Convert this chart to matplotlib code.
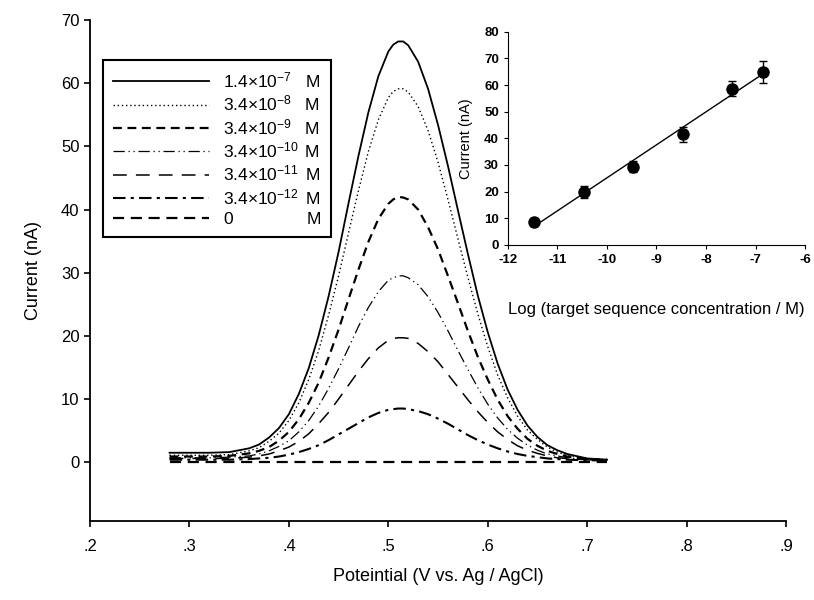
import numpy as np
import matplotlib
matplotlib.use('Agg')
import matplotlib.pyplot as plt
from matplotlib.ticker import FuncFormatter

plt.rcParams['font.family'] = ['Liberation Sans', 'DejaVu Sans']
plt.rcParams['axes.unicode_minus'] = False
plt.rcParams['mathtext.fontset'] = 'custom'
plt.rcParams['mathtext.rm'] = 'Liberation Sans'
plt.rcParams['mathtext.it'] = 'Liberation Sans'

# potential (V) where the voltammograms were read
potential = [0.28, 0.30, 0.32, 0.34, 0.36, 0.37, 0.38, 0.39, 0.40, 0.41, 0.42, 0.43, 0.44,
             0.45, 0.46, 0.47, 0.48, 0.49, 0.50, 0.505, 0.51, 0.515, 0.52, 0.53, 0.54,
             0.55, 0.56, 0.57, 0.58, 0.59, 0.60, 0.61, 0.62, 0.63, 0.64, 0.65, 0.66,
             0.67, 0.68, 0.70, 0.72]

c_1e7 = [1.5, 1.5, 1.5, 1.6, 2.2, 2.8, 3.9, 5.4, 7.6, 10.8, 14.9, 20.1, 26.3,
         33.3, 41.0, 48.5, 55.4, 61.1, 65.0, 66.1, 66.6, 66.6, 66.0, 63.4, 59.1,
         53.4, 46.9, 39.9, 33.0, 26.4, 20.6, 15.6, 11.5, 8.3, 5.8, 4.0, 2.7,
         1.9, 1.3, 0.6, 0.4]
c_1e8 = [1.1, 1.1, 1.1, 1.2, 1.8, 2.3, 3.3, 4.6, 6.6, 9.4, 13.1, 17.7, 23.3,
         29.5, 36.3, 43.0, 49.2, 54.2, 57.7, 58.7, 59.1, 59.1, 58.6, 56.3, 52.5,
         47.5, 41.6, 35.4, 29.3, 23.5, 18.3, 13.8, 10.2, 7.3, 5.1, 3.6, 2.4,
         1.6, 1.1, 0.6, 0.4]
c_1e9 = [0.9, 0.9, 0.9, 1.0, 1.4, 1.8, 2.4, 3.4, 4.8, 6.8, 9.4, 12.6, 16.6,
         21.0, 25.8, 30.5, 34.9, 38.5, 40.9, 41.6, 42.0, 41.9, 41.6, 40.0, 37.2,
         33.7, 29.5, 25.2, 20.8, 16.7, 13.1, 9.9, 7.3, 5.3, 3.7, 2.6, 1.8,
         1.3, 0.9, 0.5, 0.4]
c_1e10 = [0.7, 0.7, 0.7, 0.8, 1.0, 1.3, 1.8, 2.5, 3.4, 4.8, 6.6, 8.9, 11.7,
          14.8, 18.1, 21.5, 24.5, 27.0, 28.8, 29.2, 29.5, 29.5, 29.2, 28.1, 26.2,
          23.7, 20.8, 17.7, 14.7, 11.8, 9.2, 7.0, 5.2, 3.8, 2.7, 1.9, 1.3,
          1.0, 0.7, 0.4, 0.3]
c_1e11 = [0.6, 0.6, 0.6, 0.6, 0.8, 1.0, 1.3, 1.8, 2.4, 3.3, 4.5, 6.1, 7.9,
          10.0, 12.2, 14.4, 16.4, 18.1, 19.3, 19.6, 19.7, 19.7, 19.6, 18.8, 17.5,
          15.9, 13.9, 11.9, 9.9, 8.0, 6.3, 4.8, 3.6, 2.6, 1.9, 1.4, 1.0,
          0.7, 0.6, 0.4, 0.3]
c_1e12 = [0.4, 0.4, 0.4, 0.4, 0.5, 0.6, 0.7, 0.9, 1.2, 1.6, 2.1, 2.7, 3.5,
          4.4, 5.3, 6.2, 7.1, 7.8, 8.3, 8.4, 8.5, 8.5, 8.4, 8.1, 7.6,
          6.9, 6.1, 5.2, 4.3, 3.5, 2.8, 2.2, 1.7, 1.3, 1.0, 0.8, 0.6,
          0.5, 0.4, 0.3, 0.3]
c_zero = [0.1, 0.1, 0.1, 0.1, 0.1, 0.1, 0.1, 0.1, 0.1, 0.1, 0.1, 0.1, 0.1,
          0.1, 0.1, 0.1, 0.1, 0.1, 0.1, 0.1, 0.1, 0.1, 0.1, 0.1, 0.1,
          0.1, 0.1, 0.1, 0.1, 0.1, 0.1, 0.1, 0.1, 0.1, 0.1, 0.1, 0.1,
          0.1, 0.1, 0.1, 0.1]

labels = [r'1.4$\times$10$^{-7}$', r'3.4$\times$10$^{-8}$', r'3.4$\times$10$^{-9}$',
          r'3.4$\times$10$^{-10}$', r'3.4$\times$10$^{-11}$', r'3.4$\times$10$^{-12}$', '0']
unit = 'M'

# calibration (inset)
log_conc = [-11.47, -10.47, -9.47, -8.47, -7.47, -6.85]
peak_current = [8.6, 19.8, 29.4, 41.6, 58.6, 64.9]
peak_err = [1.5, 2.2, 2.0, 2.8, 2.8, 4.2]

styles = [('-', 1.3), ((0, (1, 2)), 1.0), ((0, (4, 2.5)), 1.6), ((0, (9, 3, 1, 3, 1, 3)), 0.9),
          ((0, (9, 6)), 1.1), ((0, (6, 2.5, 1.5, 2.5)), 1.5), ((0, (5, 3)), 1.6)]
leg_size = 12.5

fig = plt.figure(figsize=(8.14, 6.0), dpi=100)
ax = fig.add_axes([0.1106, 0.1317, 0.855, 0.835])

# pad every legend label so the unit "M" lines up in one column
renderer = fig.canvas.get_renderer()


def text_width(s):
    t = fig.text(0, 0, s, fontsize=leg_size)
    w = t.get_window_extent(renderer).width
    t.remove()
    return w


em = text_width(r'$a\hspace{1}a$') - text_width(r'$aa$')
widths = [text_width(l) for l in labels]
wmax = max(widths)
leg_labels = [l + r'$\hspace{%.3f}$' % ((wmax - w + 7) / em) + unit
              for l, w in zip(labels, widths)]

curves = [c_1e7, c_1e8, c_1e9, c_1e10, c_1e11, c_1e12, c_zero]
for y, lab, (ls, lw) in zip(curves, leg_labels, styles):
    ax.plot(potential, y, color='black', linestyle=ls, linewidth=lw, label=lab)

ax.set_xlim(0.2, 0.9)
ax.set_ylim(-9.3, 70)
ax.set_xticks(np.arange(0.2, 0.91, 0.1))
ax.set_yticks(range(0, 71, 10))
ax.xaxis.set_major_formatter(FuncFormatter(lambda v, p: ('%.1f' % v).lstrip('0')))
for s in ['top', 'right']:
    ax.spines[s].set_visible(False)
for s in ['left', 'bottom']:
    ax.spines[s].set_linewidth(1.3)
ax.tick_params(direction='out', length=4, width=1.2, labelsize=12)
ax.tick_params(axis='x', pad=9)
ax.set_xlabel('Poteintial (V vs. Ag / AgCl)', fontsize=13, labelpad=10)
ax.set_ylabel('Current (nA)', fontsize=13, labelpad=14)

leg = ax.legend(loc='upper left', bbox_to_anchor=(0.0187, 0.92), borderaxespad=0,
                fancybox=False, edgecolor='black', framealpha=1,
                prop={'size': leg_size}, handlelength=5.5, handletextpad=0.8,
                labelspacing=0.2, borderpad=0.6)
leg.get_frame().set_linewidth(1.5)

# inset: calibration plot
ins = fig.add_axes([0.624, 0.5917, 0.365, 0.3555])
a, b = np.polyfit(log_conc, peak_current, 1)
xfit = np.array([log_conc[0], log_conc[-1]])
ins.plot(xfit, a * xfit + b, color='black', linewidth=1.0)
ins.errorbar(log_conc, peak_current, yerr=peak_err, fmt='o', color='black',
             markersize=8, capsize=3, elinewidth=1, capthick=1)
ins.set_xlim(-12, -6)
ins.set_ylim(0, 80)
ins.set_xticks(range(-12, -5))
ins.set_yticks(range(0, 81, 10))
for s in ['top', 'right']:
    ins.spines[s].set_visible(False)
ins.tick_params(direction='out', length=3, labelsize=9.5)
for lab in ins.get_xticklabels() + ins.get_yticklabels():
    lab.set_fontweight('bold')
ins.set_xlabel('Log (target sequence concentration / M)', fontsize=12, labelpad=26)
ins.set_ylabel('Current (nA)', fontsize=10.5, labelpad=8)

fig.savefig('out.png', dpi=100)
